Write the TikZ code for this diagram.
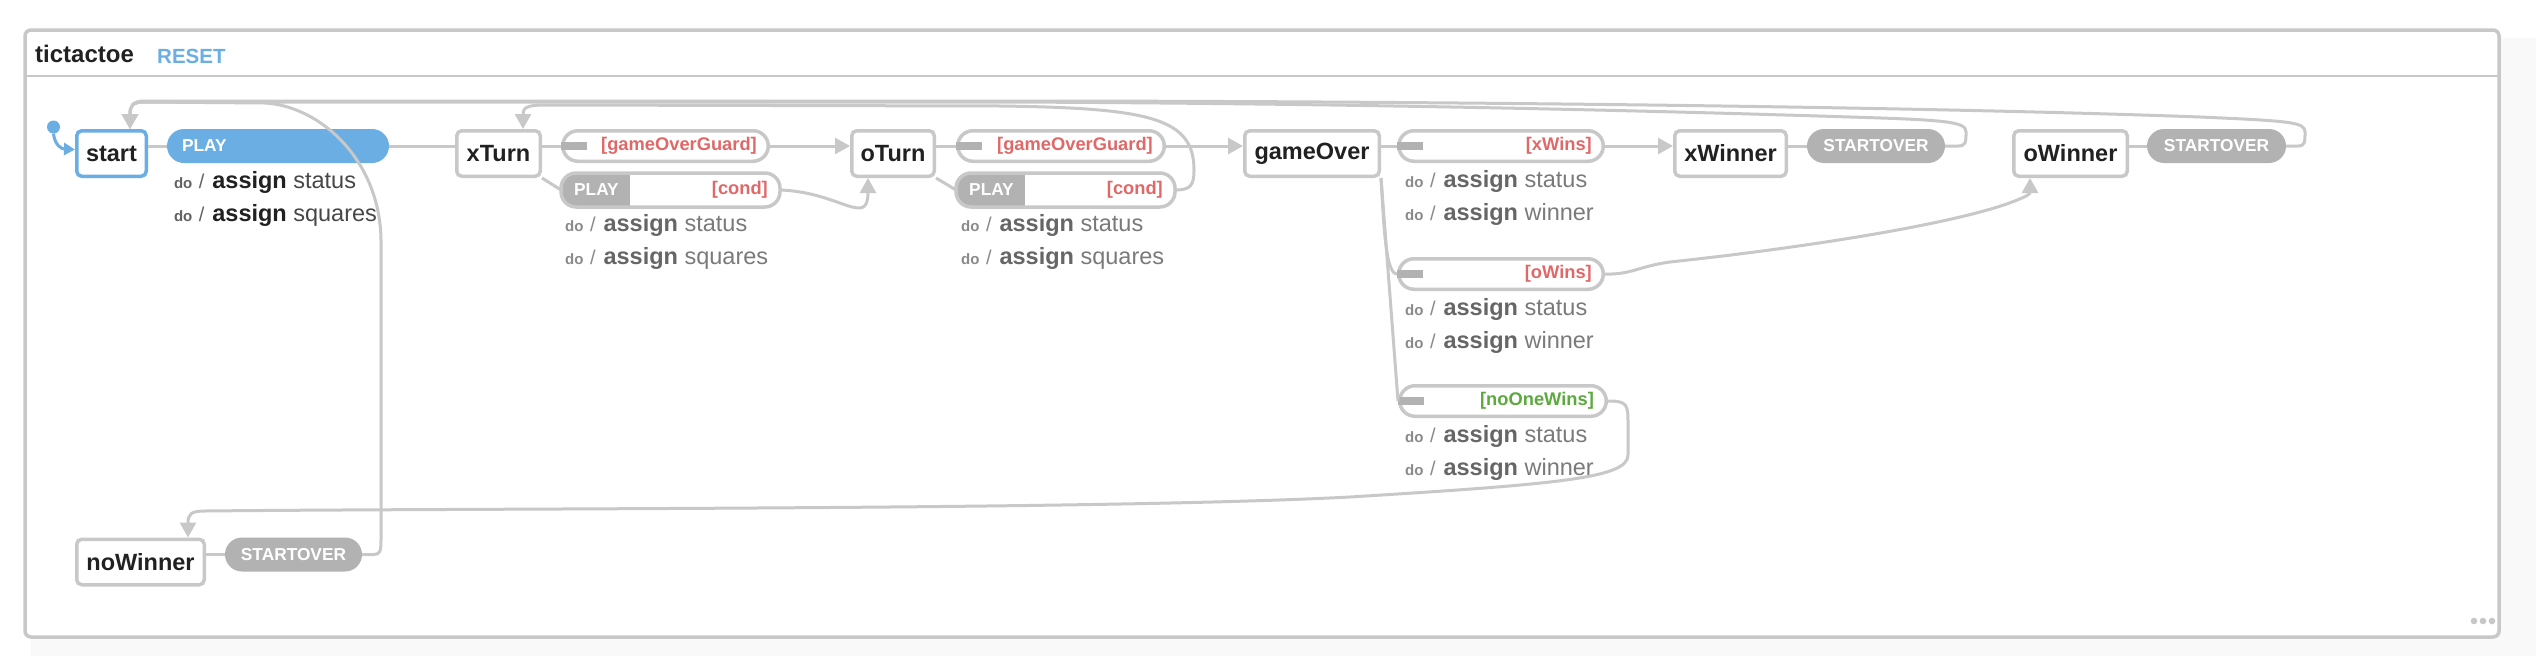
\documentclass[tikz,border=0pt]{standalone}
\usepackage{fontspec}
\setmainfont{Liberation Sans}
\usetikzlibrary{arrows.meta}

\definecolor{linegray}{HTML}{C8C8C8}
\definecolor{pillgray}{HTML}{B2B2B2}
\definecolor{vizblue}{HTML}{6AAEE3}
\definecolor{guardred}{HTML}{E06868}
\definecolor{guardgreen}{HTML}{5CAA3E}
\definecolor{dogray}{HTML}{8A8A8A}
\definecolor{assigngray}{HTML}{666666}
\definecolor{actgray}{HTML}{7A7A7A}

\begin{document}
\begin{tikzpicture}[x=1pt, y=-1pt,
    statebox/.style={draw=linegray, line width=3.5pt, rounded corners=5pt, fill=white,
      minimum height=45.5pt, inner sep=0pt, text=black!87,
      font=\fontsize{23.5}{28}\selectfont\bfseries},
    guardpill/.style={draw=linegray, line width=3.5pt, rounded corners=15.2pt, fill=white,
      minimum height=30.5pt, inner sep=0pt},
    evpill/.style={fill=pillgray, rounded corners=17pt, minimum height=34pt, inner sep=0pt},
    evtext/.style={inner sep=0pt, text=white, font=\fontsize{17.3}{20}\selectfont\bfseries},
    guardtext/.style={anchor=east, inner sep=0pt, text=guardred,
      font=\fontsize{18.3}{21}\selectfont\bfseries},
    actline/.style={anchor=west, inner sep=0pt, text=actgray,
      font=\fontsize{23.5}{28}\selectfont},
    startact/.style={actline, text=black!72,
      execute at begin node={\colorlet{dogray}{black!62}\colorlet{assigngray}{black!87}}},
    wire/.style={draw=linegray, line width=3pt},
    wirearrow/.style={wire, -{Triangle[length=15pt,width=16pt]}},
  ]
  \def\doline#1{{\fontsize{15}{18}\selectfont\bfseries\color{dogray}do}\hspace{6.5pt}{\color{dogray}\fontsize{20}{24}\selectfont/}\hspace{8pt}{\bfseries\color{assigngray}assign} #1}

  \useasboundingbox (0,0) rectangle (2536,656);

  % machine frame
  \fill[black!2.5] (31,38) rectangle (2536,656);
  \draw[linegray, line width=3.5pt, rounded corners=6pt, fill=white] (25,30) rectangle (2499,637);
  \draw[linegray, line width=2.5pt] (25,76) -- (2499,76);
  \node[anchor=west, inner sep=0pt, text=black!87, font=\fontsize{24}{28}\selectfont\bfseries] (title) at (35,54) {tictactoe};
  \node[anchor=west, inner sep=0pt, text=vizblue, font=\fontsize{20.5}{24}\selectfont\bfseries] (reset) at (157,56) {RESET};
  \foreach \x in {2474,2483,2492}
    \fill[black!22] (\x,621) circle (3.3);

  % states
  \node[statebox, draw=vizblue, minimum width=69.5pt] (start) at (111.5,153.5) {start};
  \node[statebox, minimum width=83.5pt] (xTurn) at (498.5,153.5) {xTurn};
  \node[statebox, minimum width=82.5pt] (oTurn) at (893,153.5) {oTurn};
  \node[statebox, minimum width=134.5pt] (gameOver) at (1312,153.5) {gameOver};
  \node[statebox, minimum width=111.5pt] (xWinner) at (1730.5,153.5) {xWinner};
  \node[statebox, minimum width=113.5pt] (oWinner) at (2070.5,153.5) {oWinner};
  \node[statebox, minimum width=127.5pt] (noWinner) at (140.5,562) {noWinner};
  \node[circle, fill=vizblue, minimum size=13pt, inner sep=0pt] (init) at (53.5,127) {};

  % event pills
  \node[evpill, fill=vizblue, minimum width=222pt] (playS) at (278,146) {};
  \node[evtext, anchor=west] (playS-txt) at ([xshift=15pt]playS.west) {PLAY};
  \foreach \n/\x/\y/\w in {xStart/1876/146/138, oStart/2216.5/146/139, nStart/293.5/554.5/137} {
    \node[evpill, minimum width=\w pt] (\n) at (\x,\y) {};
    \node[evtext] (\n-txt) at (\n) {STARTOVER};
  }

  % guarded pills
  \foreach \n/\x/\y/\w/\txt in {xGuard/665.5/146/205.5/{[gameOverGuard]}, oGuard/1061/146/206.5/{[gameOverGuard]},
                                xWins/1501/146/204.5/{[xWins]}, oWins/1501/274/204.5/{[oWins]}} {
    \node[guardpill, minimum width=\w pt] (\n) at (\x,\y) {};
    \fill[pillgray] ([yshift=4pt]\n.west) rectangle ([xshift=26pt,yshift=-4pt]\n.west);
    \node[guardtext] (\n-txt) at ([xshift=-13pt]\n.east) {\txt};
  }
  \node[guardpill, minimum width=206.5pt] (noOne) at (1503,401) {};
  \fill[pillgray] ([yshift=4pt]noOne.west) rectangle ([xshift=26pt,yshift=-4pt]noOne.west);
  \node[guardtext, text=guardgreen] (noOne-txt) at ([xshift=-14pt]noOne.east) {[noOneWins]};

  % PLAY [cond] pills
  \node[guardpill, draw=none, minimum width=215.5pt] (xCond) at (670.5,190) {};
  \node[guardpill, draw=none, minimum width=215.5pt] (oCond) at (1065.5,190) {};
  \foreach \n in {xCond, oCond} {
    \begin{scope}
      \clip[rounded corners=15.2pt] (\n.north west) rectangle (\n.south east);
      \fill[pillgray] (\n.north west) rectangle ([xshift=69pt]\n.south west);
    \end{scope}
    \draw[linegray, line width=3.5pt, rounded corners=15.2pt] (\n.north west) rectangle (\n.south east);
    \node[evtext, anchor=west] (\n-ev) at ([xshift=13pt]\n.west) {PLAY};
    \node[guardtext] (\n-txt) at ([xshift=-12pt]\n.east) {[cond]};
  }

  % actions
  \node[startact] (playS-a) at ([xshift=7pt,yshift=-36pt]playS.west) {\doline{status}};
  \node[startact] (playS-b) at ([xshift=7pt,yshift=-69pt]playS.west) {\doline{squares}};
  \foreach \n/\txt/\dx in {xCond/squares/4, oCond/squares/5, xWins/winner/8, oWins/winner/8, noOne/winner/7} {
    \node[actline] (\n-a) at ([xshift=\dx pt,yshift=-35pt]\n.west) {\doline{status}};
    \node[actline] (\n-b) at ([xshift=\dx pt,yshift=-68.5pt]\n.west) {\doline{\txt}};
  }

  % transitions
  \draw[vizblue, line width=3pt, -{Triangle[length=11pt,width=12pt]}] (init.south) .. controls (55,146) and (62,149) .. ([yshift=4pt]start.west);
  \draw[wire] (start.east |- playS.west) -- (playS.west);
  \draw[wire] (playS.east) -- (playS.east -| xTurn.west);

  \draw[wire] (xTurn.east |- xGuard.west) -- (xGuard.west);
  \draw[wirearrow] (xGuard.east) -- (xGuard.east -| oTurn.west);
  \draw[wire] (xTurn.south east) -- (xCond.west);
  \draw[wirearrow] (xCond.east) .. controls (840,192) and (868,228) .. ([xshift=-25pt]oTurn.south);

  \draw[wire] (oTurn.east |- oGuard.west) -- (oGuard.west);
  \draw[wirearrow] (oGuard.east) -- (oGuard.east -| gameOver.west);
  \draw[wire] (oTurn.south east) -- (oCond.west);
  \draw[wirearrow] (oCond.east) .. controls (1190,190) and (1194,186) .. (1194,170) .. controls (1194,118) and (1150,108) .. (1000,106) -- (545,105) .. controls (526,105) and (523,108) .. ([xshift=24.5pt]xTurn.north);

  \draw[wire] (gameOver.east |- xWins.west) -- (xWins.west);
  \draw[wirearrow] (xWins.east) -- (xWins.east -| xWinner.west);
  \draw[wire] (gameOver.south east) .. controls (1384,230) and (1386,274) .. (oWins.west);
  \draw[wire] (gameOver.south east) -- (noOne.west);
  \draw[wirearrow] (oWins.east) .. controls (1630,275) and (1640,266) .. (1670,262) .. controls (1820,246) and (1960,222) .. (2012,202) .. controls (2028,196) and (2030,194) .. ([xshift=-40.5pt]oWinner.south);
  \draw[wirearrow] (noOne.east) .. controls (1628,401) and (1628,405) .. (1628,425) -- (1628,455) .. controls (1628,478) and (1560,484) .. (1350,497) .. controls (1100,510) and (500,508) .. (205,511) .. controls (191,511) and (188,514) .. ([xshift=47.5pt]noWinner.north);

  \draw[wire] (xWinner.east |- xStart.west) -- (xStart.west);
  \draw[wire] (oWinner.east |- oStart.west) -- (oStart.west);
  \draw[wire] (noWinner.east |- nStart.west) -- (nStart.west);
  \draw[wirearrow] (xStart.east) -- (1958,146) .. controls (1966,146) and (1966,142) .. (1966,132) .. controls (1966,122) and (1950,120) .. (1850,117) .. controls (1600,109) and (1300,103) .. (1000,102) -- (145,102) .. controls (132,102) and (130,106) .. ([xshift=18.5pt]start.north);
  \draw[wirearrow] (oStart.east) -- (2298,146) .. controls (2305,146) and (2305,142) .. (2305,132) .. controls (2305,122) and (2290,121) .. (2200,117) .. controls (1900,106) and (1400,101) .. (1000,101) -- (145,101) .. controls (132,101) and (130,106) .. ([xshift=18.5pt]start.north);
  \draw[wirearrow] (nStart.east) -- (374,554.5) .. controls (380,554.5) and (381,551) .. (381,540) -- (381,240) .. controls (380,160) and (320,106) .. (265,103) -- (145,102) .. controls (132,102) and (130,106) .. ([xshift=18.5pt]start.north);
\end{tikzpicture}
\end{document}
